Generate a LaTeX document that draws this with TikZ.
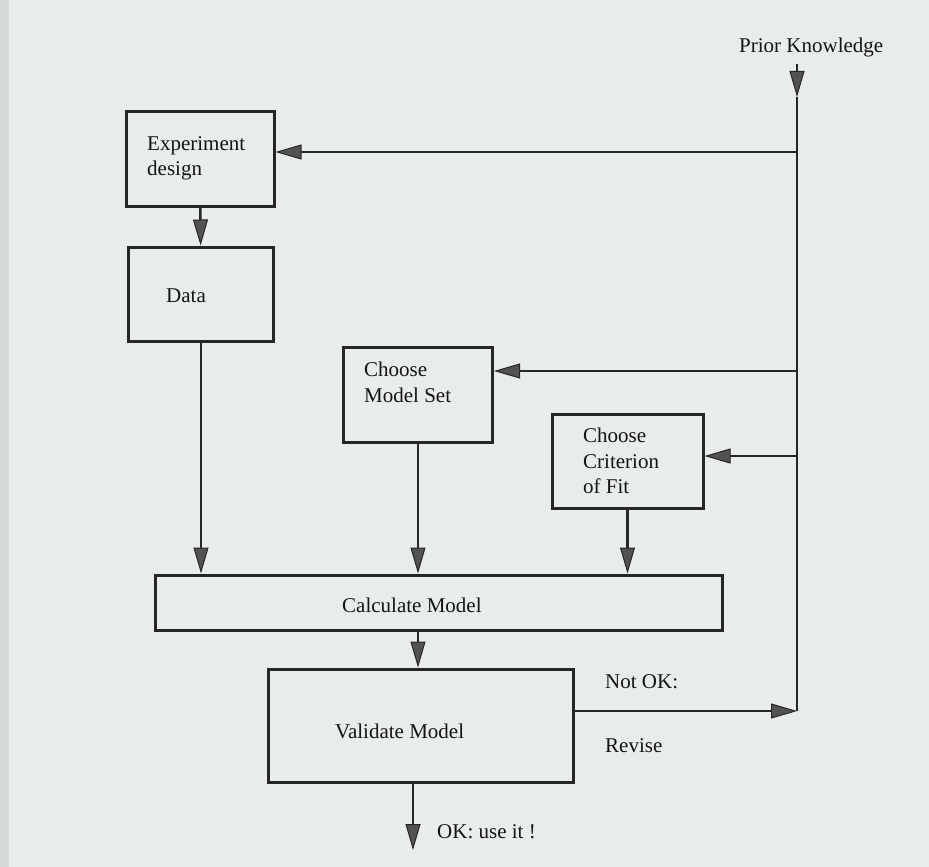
\documentclass[tikz,border=0pt]{standalone}
\usepackage{fontspec}
\setmainfont{Liberation Serif}
\usepackage{tikz}
\usetikzlibrary{arrows.meta}
\colorlet{linee}{black!85}
\definecolor{pagina}{HTML}{E8ECEA}
\definecolor{bordo}{HTML}{D4D9D7}
\tikzset{
  box/.style={draw=linee, line width=3pt, inner sep=0pt},
  testo/.style={inner sep=0pt, text=black!92, font=\fontsize{21}{25.5}\selectfont},
  linea/.style={draw=linee, line width=2.6pt},
  freccia/.style={linea, -{Triangle[length=26pt,width=15pt,line width=1pt,fill=black!68]}}
}

\begin{document}
\begin{tikzpicture}[x=1pt,y=-1pt]
% SFONDO
\fill[pagina] (0,0) rectangle (929,867);
\fill[bordo] (0,0) rectangle (9,867);
\useasboundingbox (0,0) rectangle (929,867);
% RIQUADRI
\node[box, minimum width=148pt, minimum height=95pt] (design) at (200,158.5) {};
\node[box, minimum width=145pt, minimum height=94pt] (data) at (201,294) {};
\node[box, minimum width=149pt, minimum height=95pt] (mset) at (418,394.5) {};
\node[box, minimum width=151pt, minimum height=94pt] (crit) at (627.5,461) {};
\node[box, minimum width=567pt, minimum height=55pt] (calc) at (438.5,602.5) {};
\node[box, minimum width=305pt, minimum height=113pt] (valid) at (420.5,725.5) {};
% TESTI
\node[testo, anchor=base west] (prior) at (739,53) {Prior Knowledge};
\node[testo, align=left, anchor=north west] (design-t) at (147,136) {Experiment\\design};
\node[testo, anchor=base west] (data-t) at (166,302) {Data};
\node[testo, align=left, anchor=north west] (mset-t) at (364,362) {Choose\\Model Set};
\node[testo, align=left, anchor=north west] (crit-t) at (583,428) {Choose\\Criterion\\of Fit};
\node[testo, anchor=base west] (calc-t) at (342,612) {Calculate Model};
\node[testo, anchor=base west] (valid-t) at (335,738) {Validate Model};
\node[testo, anchor=base west] (notok) at (605,688) {Not OK:};
\node[testo, anchor=base west] (revise) at (605,752) {Revise};
\node[testo, anchor=base west] (okuse) at (437,838) {OK: use it !};
% PUNTI SULLA LINEA
\coordinate (pk) at (797,97);
\coordinate (k1) at (797,152);
\coordinate (k2) at (797,371);
\coordinate (k3) at (797,456);
\coordinate (bend) at (797,711);
\coordinate (ok) at (413,850);
% LINEA PRIOR KNOWLEDGE
\draw[linea] (pk) -- (bend);
\draw[freccia, shorten <=6pt] (prior.south -| pk) -- (pk);
\draw[freccia] (k1) -- (k1 -| design.east);
\draw[freccia] (k2) -- (k2 -| mset.east);
\draw[freccia] (k3) -- (k3 -| crit.east);
% FRECCE
\draw[freccia] (design) -- (data);
\draw[freccia] (data.south) -- (data.south |- calc.north);
\draw[freccia] (mset.south) -- (mset.south |- calc.north);
\draw[freccia] (crit.south) -- (crit.south |- calc.north);
\draw[freccia] (mset.south |- calc.south) -- (mset.south |- valid.north);
\draw[freccia] (bend -| valid.east) -- (bend);
\draw[freccia] (ok |- valid.south) -- (ok);
\end{tikzpicture}
\end{document}
